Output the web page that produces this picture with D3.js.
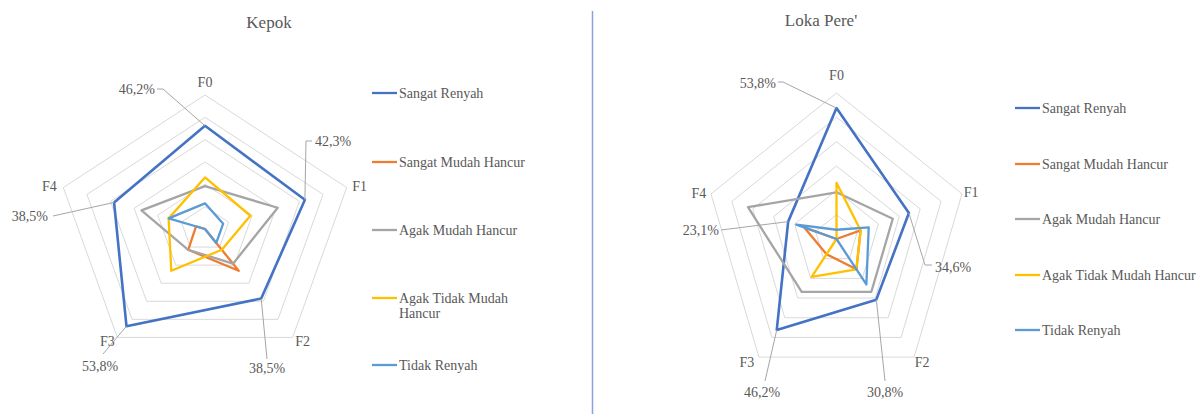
<!DOCTYPE html>
<html>
<head>
<meta charset="utf-8">
<script src="https://cdn.jsdelivr.net/npm/d3@7"></script>
<style>
  html, body { margin: 0; padding: 0; background: #ffffff; }
  svg { display: block; }
  text { font-family: "Liberation Serif", "Times New Roman", serif; fill: #595959; }
</style>
</head>
<body>
<svg id="chart" width="1203" height="414"></svg>
<script>
// ---------- data ----------
const axisLabels = ["F0", "F1", "F2", "F3", "F4"];
const seriesNames = ["Sangat Renyah", "Sangat Mudah Hancur", "Agak Mudah Hancur", "Agak Tidak Mudah Hancur", "Tidak Renyah"];
const ringTicks = [10, 20, 30, 40, 50, 60];

// Kepok (%)
const kepokSangatRenyah      = [46.2, 42.3, 38.5, 53.8, 38.5];
const kepokSangatMudahHancur = [0, 0, 23.1, 11.5, 3.8];
const kepokAgakMudahHancur   = [19.2, 30.8, 19.2, 11.5, 26.9];
const kepokAgakTidakMudah    = [23.1, 19.2, 11.5, 23.1, 15.4];
const kepokTidakRenyah       = [11.5, 7.7, 7.7, 0, 15.4];

// Loka Pere' (%)
const lokaSangatRenyah      = [53.8, 34.6, 30.8, 46.2, 23.1];
const lokaSangatMudahHancur = [0, 11.5, 15.4, 7.7, 15.4];
const lokaAgakMudahHancur   = [19.2, 26.9, 26.9, 26.9, 42.3];
const lokaAgakTidakMudah    = [23.1, 11.5, 15.4, 19.2, 0];
const lokaTidakRenyah       = [3.8, 15.4, 23.1, 0, 19.2];

// ---------- styles ----------
const colors = ["#4472C4", "#ED7D31", "#A5A5A5", "#FFC000", "#5B9BD5"];
const textColor = "#595959";
const fmt = v => d3.format(".1f")(v).replace(".", ",") + "%";

const svg = d3.select("#chart");

function drawRadar(cfg) {
  const g = svg.append("g");
  const r = d3.scaleLinear().domain([0, 60]).range([0, 1]);
  const angle = d3.scaleLinear().domain([0, axisLabels.length]).range([0, 2 * Math.PI]);
  const px = (i, v) => cfg.cx + cfg.rx * r(v) * Math.sin(angle(i));
  const py = (i, v) => cfg.cy - cfg.ry * r(v) * Math.cos(angle(i));

  // title
  g.append("text").attr("x", cfg.titleX).attr("y", cfg.titleY)
    .attr("text-anchor", "middle").attr("dy", "0.35em")
    .style("font-size", "17px").text(cfg.title);

  // rings
  const ring = d3.line().x(d => d[0]).y(d => d[1]).curve(d3.curveLinearClosed);
  g.selectAll(".ring").data(ringTicks).join("path")
    .attr("d", t => ring(axisLabels.map((_, i) => [px(i, t), py(i, t)])))
    .attr("fill", "none").attr("stroke", "#d9d9d9").attr("stroke-width", 1);

  // axis labels
  g.selectAll(".axl").data(axisLabels).join("text")
    .attr("x", (d, i) => px(i, 60) + cfg.labelOff[i][0])
    .attr("y", (d, i) => py(i, 60) + cfg.labelOff[i][1])
    .attr("text-anchor", "middle").attr("dy", "0.35em")
    .style("font-size", "14px").text(d => d);

  // series
  const line = d3.line()
    .x((v, i) => px(i, v)).y((v, i) => py(i, v))
    .curve(d3.curveLinearClosed);
  g.selectAll(".series").data(cfg.series).join("path")
    .attr("d", s => line(s))
    .attr("fill", "none")
    .attr("stroke", (s, k) => colors[k])
    .attr("stroke-width", (s, k) => k === 0 ? 2.6 : 2.3)
    .attr("stroke-linejoin", "round");

  // data labels for first series with leader lines
  const first = cfg.series[0];
  first.forEach((v, i) => {
    const L = cfg.dataLabels[i];
    const pts = [[px(i, v), py(i, v)]].concat(L.leader);
    g.append("path")
      .attr("d", d3.line()(pts))
      .attr("fill", "none").attr("stroke", "#a6a6a6").attr("stroke-width", 1);
    g.append("text").attr("x", L.x).attr("y", L.y)
      .attr("text-anchor", L.anchor).attr("dy", "0.35em")
      .style("font-size", "14px").text(fmt(v));
  });

  // legend
  const lg = g.append("g");
  seriesNames.forEach((name, k) => {
    const y = cfg.legendY[k];
    lg.append("line").attr("x1", cfg.legendX).attr("x2", cfg.legendX + 25)
      .attr("y1", y).attr("y2", y)
      .attr("stroke", colors[k]).attr("stroke-width", 2.3);
    const t = lg.append("text").attr("x", cfg.legendX + 27).attr("y", y)
      .attr("dy", "0.35em").style("font-size", "14px");
    const lines = cfg.wrap && cfg.wrap[k] ? cfg.wrap[k] : [name];
    lines.forEach((ln, j) => {
      t.append("tspan").attr("x", cfg.legendX + 27).attr("dy", j === 0 ? "0.35em" : "1.1em").text(ln);
    });
  });
}

drawRadar({
  title: "Kepok", titleX: 269, titleY: 22,
  cx: 205, cy: 229, rx: 149, ry: 134,
  labelOff: [[0, -13], [13, -1], [10, 4], [-10, 4], [-14, -1]],
  series: [kepokSangatRenyah, kepokSangatMudahHancur, kepokAgakMudahHancur, kepokAgakTidakMudah, kepokTidakRenyah],
  dataLabels: [
    { leader: [[163, 89], [157, 89]], x: 155, y: 89, anchor: "end" },
    { leader: [[306, 141], [312, 141]], x: 315, y: 141, anchor: "start" },
    { leader: [[267, 359]], x: 267, y: 368, anchor: "middle" },
    { leader: [[103, 354]], x: 100, y: 366, anchor: "middle" },
    { leader: [[53, 216]], x: 48, y: 216, anchor: "end" }
  ],
  legendX: 372, legendY: [93, 162, 230, 298, 365],
  wrap: { 3: ["Agak Tidak Mudah", "Hancur"] }
});

drawRadar({
  title: "Loka Pere'", titleX: 821, titleY: 20,
  cx: 836.5, cy: 239, rx: 132, ry: 146,
  labelOff: [[0, -18], [9, -2], [8, 5], [-12, 5], [-12, -1]],
  series: [lokaSangatRenyah, lokaSangatMudahHancur, lokaAgakMudahHancur, lokaAgakTidakMudah, lokaTidakRenyah],
  dataLabels: [
    { leader: [[783, 82], [778, 82]], x: 776, y: 83, anchor: "end" },
    { leader: [[925, 265], [932, 265]], x: 935, y: 267, anchor: "start" },
    { leader: [[885, 381]], x: 885, y: 392, anchor: "middle" },
    { leader: [[765, 381]], x: 762, y: 392, anchor: "middle" },
    { leader: [[721, 230]], x: 719, y: 230, anchor: "end" }
  ],
  legendX: 1015, legendY: [108, 164, 219, 275, 330]
});

// divider
svg.append("line").attr("x1", 592.5).attr("x2", 592.5).attr("y1", 11).attr("y2", 414)
  .attr("stroke", "#8c9fe0").attr("stroke-width", 1.5);
</script>
</body>
</html>
